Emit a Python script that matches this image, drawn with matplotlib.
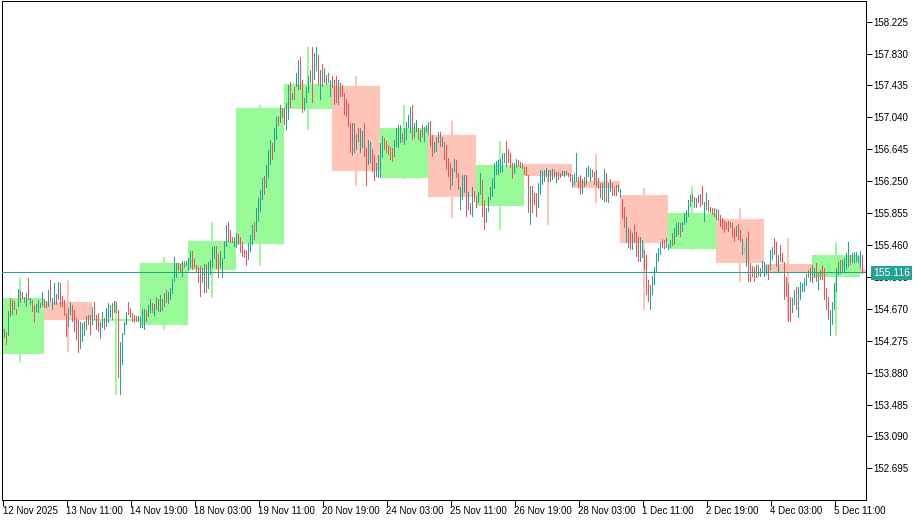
import matplotlib
matplotlib.use("Agg")
import matplotlib.pyplot as plt
from matplotlib.transforms import blended_transform_factory

plt.rcParams['font.family'] = ['Liberation Sans', 'DejaVu Sans']

# ---------------- data ----------------
# hourly bars (H1), 12 Nov 2025 00:00 ... 8 Dec 01:00, 24 bars per trading day
hour_high = [
    # 12 Nov
    154.22, 154.28, 154.33, 154.41, 154.42, 154.38, 154.64, 154.80, 154.78, 154.77, 154.67, 154.92,
    154.89, 154.88, 154.82, 154.87, 155.05, 154.80, 154.78, 154.72, 154.73, 154.78, 154.74, 154.88,
    # 13 Nov
    154.79, 154.77, 154.90, 155.03, 154.80, 154.99, 154.85, 155.00, 154.99, 154.83, 154.78, 154.62,
    154.68, 154.75, 154.72, 154.66, 154.56, 154.53, 154.51, 154.49, 154.52, 154.58, 154.59, 154.59,
    # 14 Nov
    154.69, 154.75, 154.59, 154.62, 154.51, 154.63, 154.56, 154.68, 154.74, 154.72, 154.74, 154.77,
    154.75, 154.66, 154.26, 154.37, 154.51, 154.63, 154.75, 154.68, 154.62, 154.59, 154.58, 154.58,
    # 17 Nov
    154.57, 154.67, 154.67, 154.66, 154.72, 154.79, 154.74, 154.73, 154.82, 154.79, 154.84, 154.79,
    154.87, 154.90, 154.88, 154.93, 155.04, 155.31, 155.24, 155.24, 155.22, 155.26, 155.26, 155.26,
    # 18 Nov
    155.30, 155.39, 155.39, 155.29, 155.21, 155.19, 155.20, 155.17, 155.22, 155.22, 155.25, 155.27,
    155.44, 155.45, 155.45, 155.35, 155.39, 155.30, 155.51, 155.71, 155.75, 155.65, 155.56, 155.56,
    # 19 Nov
    155.61, 155.60, 155.56, 155.50, 155.40, 155.40, 155.48, 155.58, 155.71, 155.75, 155.92, 156.04,
    156.14, 156.29, 156.32, 156.45, 156.64, 156.76, 156.72, 156.91, 157.04, 157.06, 157.19, 157.16,
    # 20 Nov
    157.16, 157.22, 157.44, 157.48, 157.34, 157.42, 157.59, 157.75, 157.79, 157.50, 157.28, 157.42,
    157.55, 157.63, 157.91, 157.84, 157.91, 157.81, 157.63, 157.70, 157.65, 157.56, 157.59, 157.50,
    # 21 Nov
    157.55, 157.50, 157.55, 157.50, 157.47, 157.44, 157.34, 157.27, 157.22, 156.97, 156.97, 156.97,
    156.83, 156.91, 156.91, 156.87, 156.97, 156.66, 156.76, 156.74, 156.65, 156.57, 156.47, 156.57,
    # 24 Nov
    156.72, 156.81, 156.78, 156.75, 156.70, 156.67, 156.66, 156.76, 156.91, 156.95, 156.95, 156.85,
    156.91, 156.98, 157.07, 157.17, 157.19, 156.97, 157.01, 156.91, 156.88, 156.95, 156.92, 156.95,
    # 25 Nov
    156.98, 157.00, 156.82, 156.73, 156.80, 156.86, 156.86, 156.80, 156.73, 156.70, 156.54, 156.47,
    156.41, 156.52, 156.51, 156.35, 156.18, 156.33, 156.33, 156.33, 156.12, 155.98, 156.18, 156.13,
    # 26 Nov
    156.07, 156.12, 156.35, 156.26, 156.02, 155.92, 156.05, 156.18, 156.29, 156.47, 156.50, 156.51,
    156.52, 156.60, 156.60, 156.75, 156.65, 156.60, 156.47, 156.47, 156.52, 156.51, 156.49, 156.47,
    # 27 Nov
    156.43, 156.43, 156.33, 156.19, 156.19, 156.10, 156.10, 156.23, 156.39, 156.38, 156.39, 156.41,
    156.39, 156.39, 156.40, 156.39, 156.36, 156.36, 156.35, 156.38, 156.38, 156.38, 156.35, 156.34,
    # 28 Nov
    156.33, 156.35, 156.60, 156.30, 156.33, 156.28, 156.30, 156.41, 156.44, 156.40, 156.39, 156.36,
    156.39, 156.29, 156.23, 156.23, 156.40, 156.35, 156.23, 156.28, 156.23, 156.18, 156.20, 156.20,
    # 1 Dec
    156.15, 156.03, 155.93, 155.81, 155.67, 155.65, 155.61, 155.71, 155.62, 155.56, 155.56, 155.52,
    155.40, 155.34, 155.03, 154.97, 155.08, 155.19, 155.36, 155.42, 155.50, 155.53, 155.52, 155.55,
    # 2 Dec
    155.47, 155.52, 155.61, 155.67, 155.73, 155.75, 155.73, 155.75, 155.86, 155.89, 156.02, 156.08,
    156.09, 156.05, 156.04, 156.08, 156.09, 156.19, 155.99, 156.10, 156.02, 155.93, 155.92, 155.92,
    # 3 Dec
    155.91, 155.89, 155.83, 155.80, 155.77, 155.75, 155.76, 155.75, 155.73, 155.67, 155.70, 155.72,
    155.65, 155.53, 155.44, 155.55, 155.62, 155.24, 155.20, 155.19, 155.21, 155.21, 155.17, 155.26,
    # 4 Dec
    155.25, 155.21, 155.21, 155.40, 155.44, 155.55, 155.50, 155.34, 155.46, 155.36, 155.25, 155.06,
    154.99, 154.82, 154.80, 154.90, 154.94, 154.94, 155.00, 154.99, 155.05, 155.10, 155.15, 155.17,
    # 5 Dec
    155.21, 155.17, 155.24, 155.13, 155.15, 155.21, 155.17, 154.93, 154.82, 154.65, 154.75, 154.99,
    155.17, 155.25, 155.27, 155.27, 155.30, 155.36, 155.50, 155.34, 155.36, 155.37, 155.37, 155.32,
    # 8 Dec
    155.39, 155.34,
]

hour_low = [
    # 12 Nov
    154.01, 154.06, 154.14, 154.28, 154.31, 154.22, 154.33, 154.57, 154.59, 154.66, 154.59, 154.69,
    154.74, 154.79, 154.74, 154.69, 154.78, 154.72, 154.63, 154.49, 154.63, 154.62, 154.68, 154.70,
    # 13 Nov
    154.68, 154.68, 154.69, 154.75, 154.66, 154.72, 154.72, 154.78, 154.69, 154.69, 154.58, 154.32,
    154.44, 154.59, 154.51, 154.38, 154.28, 154.12, 154.17, 154.26, 154.33, 154.41, 154.47, 154.35,
    # 14 Nov
    154.47, 154.53, 154.41, 154.38, 154.30, 154.43, 154.41, 154.44, 154.49, 154.56, 154.53, 154.62,
    154.62, 153.81, 153.60, 153.97, 154.35, 154.47, 154.59, 154.56, 154.51, 154.49, 154.51, 154.51,
    # 17 Nov
    154.43, 154.43, 154.41, 154.51, 154.57, 154.62, 154.62, 154.58, 154.66, 154.63, 154.63, 154.64,
    154.69, 154.74, 154.73, 154.78, 154.85, 155.00, 155.05, 155.14, 155.13, 155.06, 155.17, 155.20,
    # 18 Nov
    155.14, 155.17, 155.15, 155.17, 155.11, 154.99, 154.82, 154.99, 154.87, 154.87, 154.92, 155.09,
    155.17, 155.29, 155.16, 155.05, 155.17, 155.05, 155.29, 155.44, 155.50, 155.48, 155.48, 155.44,
    # 19 Nov
    155.42, 155.46, 155.36, 155.31, 155.30, 155.20, 155.27, 155.37, 155.46, 155.52, 155.62, 155.74,
    155.87, 156.02, 156.08, 156.17, 156.29, 156.45, 156.51, 156.61, 156.76, 156.93, 156.97, 157.03,
    # 20 Nov
    156.95, 156.88, 157.01, 157.16, 157.26, 157.26, 157.42, 157.38, 157.38, 157.09, 157.12, 157.22,
    157.34, 157.47, 157.22, 157.50, 157.61, 157.44, 157.26, 157.42, 157.47, 157.44, 157.47, 157.29,
    # 21 Nov
    157.40, 157.19, 157.22, 157.19, 157.29, 157.29, 157.07, 157.04, 156.92, 156.60, 156.56, 156.60,
    156.64, 156.74, 156.60, 156.66, 156.55, 156.19, 156.45, 156.47, 156.36, 156.25, 156.30, 156.29,
    # 24 Nov
    156.29, 156.54, 156.64, 156.60, 156.57, 156.51, 156.49, 156.55, 156.67, 156.66, 156.72, 156.74,
    156.70, 156.76, 156.91, 156.85, 156.76, 156.78, 156.86, 156.76, 156.74, 156.80, 156.74, 156.86,
    # 25 Nov
    156.82, 156.67, 156.55, 156.60, 156.61, 156.72, 156.67, 156.67, 156.51, 156.39, 156.30, 156.14,
    156.19, 156.36, 156.29, 156.14, 155.89, 156.02, 156.10, 155.81, 155.89, 155.83, 155.81, 155.99,
    # 26 Nov
    155.92, 155.98, 156.08, 155.81, 155.65, 155.73, 155.87, 156.02, 156.05, 156.15, 156.33, 156.33,
    156.35, 156.36, 156.47, 156.43, 156.47, 156.41, 156.28, 156.34, 156.41, 156.43, 156.41, 156.40,
    # 27 Nov
    156.33, 156.32, 155.86, 155.71, 155.86, 155.95, 155.81, 155.92, 156.08, 156.20, 156.24, 156.30,
    156.24, 156.24, 156.27, 156.29, 156.23, 156.27, 156.29, 156.32, 156.30, 156.33, 156.30, 156.24,
    # 28 Nov
    156.18, 156.20, 156.24, 156.17, 156.08, 156.09, 156.18, 156.20, 156.30, 156.24, 156.30, 156.20,
    156.18, 156.15, 156.04, 156.02, 155.99, 155.99, 155.98, 156.12, 156.07, 156.07, 156.07, 156.12,
    # 1 Dec
    156.04, 155.78, 155.67, 155.49, 155.42, 155.40, 155.40, 155.49, 155.31, 155.25, 155.25, 155.30,
    155.15, 154.84, 154.75, 154.66, 154.84, 154.96, 155.11, 155.25, 155.34, 155.42, 155.41, 155.42,
    # 2 Dec
    155.40, 155.42, 155.45, 155.46, 155.56, 155.58, 155.56, 155.62, 155.71, 155.73, 155.81, 155.93,
    155.99, 155.92, 155.92, 155.98, 155.93, 155.95, 155.74, 155.89, 155.87, 155.86, 155.83, 155.81,
    # 3 Dec
    155.77, 155.77, 155.68, 155.65, 155.61, 155.65, 155.62, 155.67, 155.55, 155.50, 155.56, 155.52,
    155.50, 155.34, 155.36, 155.19, 155.00, 155.00, 155.06, 155.00, 155.05, 155.06, 155.06, 155.13,
    # 4 Dec
    155.06, 155.09, 155.03, 155.15, 155.27, 155.34, 155.19, 155.13, 155.25, 155.24, 154.78, 154.82,
    154.51, 154.51, 154.62, 154.72, 154.66, 154.56, 154.78, 154.88, 154.88, 154.95, 155.05, 155.00,
    # 5 Dec
    154.99, 155.05, 155.00, 154.90, 155.03, 155.03, 154.78, 154.66, 154.53, 154.33, 154.47, 154.65,
    154.88, 155.09, 155.10, 155.11, 155.11, 155.15, 155.19, 155.21, 155.24, 155.24, 155.25, 155.24,
    # 8 Dec
    155.16, 155.10,
]

# bar direction: u = up, d = down, n = unchanged
hour_dir = "".join([
    "dudu udud uddu dudu dudd uudu",   # 12 Nov
    "duud uudu dddd uudd dduu udud",   # 13 Nov
    "uddd uudu uudu dduu uudd dddu",   # 14 Nov
    "uuud uudu duud uduu uuud dudu",   # 17 Nov
    "uudd dddu uduu uudd uuuu dddu",   # 18 Nov
    "uddd dduu uduu uudu uudu udud",   # 19 Nov
    "duud uduu dduu uudu udud uudu",   # 20 Nov
    "dddu dddd ddud uduu dduu dduu",   # 21 Nov
    "uudd dddu uuud uuuu duud uduu",   # 24 Nov
    "uddu uudu dddd uudd uuud udud",   # 25 Nov
    "duud duuu uuuu uuud dddu uddd",   # 26 Nov
    "dddu dddu uuuu duud uddu uudd",   # 27 Nov
    "uuud dudu uudd uddu uduu dddu",   # 28 Nov
    "uddu ddud dduu dddu uuuu uddu",   # 1 Dec
    "uudu uudu uuuu dudu dduu dudd",   # 2 Dec
    "uddd dddu ddud dunu dddd uduu",   # 3 Dec
    "uudu uddu dddd dduu duuu uudu",   # 4 Dec
    "dudu dddd duuu uudu uuud uuuu",   # 5 Dec
    "ud",                              # 8 Dec
]).replace(" ", "")

# daily candles (D1)
day_open  = [154.11, 154.75, 154.52, 154.47, 155.15, 155.47, 157.14, 157.43, 156.29, 156.82,
             155.94, 156.46, 156.25, 156.08, 155.41, 155.78, 155.22, 155.06, 155.16]
day_high  = [155.05, 155.03, 154.77, 155.31, 155.75, 157.19, 157.91, 157.55, 157.19, 157.00,
             156.75, 156.46, 156.59, 156.17, 156.19, 155.92, 155.55, 155.50, 155.39]
day_low   = [154.01, 154.13, 153.60, 154.41, 154.80, 155.20, 156.88, 156.19, 156.28, 155.80,
             155.65, 155.71, 155.98, 154.66, 155.40, 155.00, 154.51, 154.33, 155.10]
day_close = [154.80, 154.53, 154.54, 155.24, 155.51, 157.16, 157.45, 156.38, 156.91, 156.05,
             156.45, 156.31, 156.17, 155.48, 155.86, 155.24, 155.13, 155.34, 155.12]

last_price = 155.116

price_ticks = [158.225, 157.830, 157.435, 157.040, 156.645, 156.250, 155.855, 155.460,
               155.065, 154.670, 154.275, 153.880, 153.485, 153.090, 152.695]

time_labels = ["12 Nov 2025", "13 Nov 11:00", "14 Nov 19:00", "18 Nov 03:00", "19 Nov 11:00",
               "20 Nov 19:00", "24 Nov 03:00", "25 Nov 11:00", "26 Nov 19:00", "28 Nov 03:00",
               "1 Dec 11:00", "2 Dec 19:00", "4 Dec 03:00", "5 Dec 11:00"]
first_label_bar = 3      # 12 Nov 03:00
label_step = 32          # bars between labels
bars_per_day = 24

# ---------------- style ----------------
UP = '#20a393'
DN = '#f05050'
NEU = '#7fd87f'
BOX_UP = '#98fb98'
BOX_DN = '#ffc4b8'
PX = 72.0 / 100.0   # one pixel in points

W, H = 921, 521
fig = plt.figure(figsize=(W / 100, H / 100), dpi=100)
fig.patch.set_facecolor('white')
ax = fig.add_axes([2 / W, 21 / H, 864 / W, 499 / H])

Y_MIN, Y_MAX = 152.303, 158.481
half_px = (Y_MAX - Y_MIN) / 499 / 2

# daily candles behind
n_days = len(day_open)
centers = [d * bars_per_day + (bars_per_day - 1) / 2 for d in range(n_days)]
box_cols = [BOX_UP if c >= o else BOX_DN for o, c in zip(day_open, day_close)]
ax.bar(centers, [h - l for h, l in zip(day_high, day_low)], bottom=day_low, width=1.0,
       color=box_cols, linewidth=0, zorder=1, antialiased=False)
heights = []
for o, c in zip(day_open, day_close):
    hgt = c - o
    if abs(hgt) < 0.02:
        hgt = 0.02 if hgt >= 0 else -0.02
    heights.append(hgt)
ax.bar(centers, heights, bottom=day_open, width=bars_per_day,
       color=box_cols, linewidth=0, zorder=1.1, antialiased=False)

# hourly bars: 1-pixel wide filled columns (0.5 bar units = 1 px)
n = min(len(hour_high), len(hour_low), len(hour_dir))
xs = list(range(n))
cols = [UP if hour_dir[i] == 'u' else (DN if hour_dir[i] == 'd' else NEU) for i in xs]
ax.bar(xs, [hour_high[i] - hour_low[i] for i in xs], bottom=hour_low[:n], width=0.5,
       color=cols, linewidth=0, zorder=2, antialiased=False)

# last price line (one pixel high band)
ax.axhspan(last_price - half_px, last_price + half_px, color=UP, linewidth=0,
           zorder=3, antialiased=False)

# bar k sits on pixel centre: x_px = 2k - 3.5
ax.set_xlim(2.75, 434.75)
ax.set_ylim(Y_MIN, Y_MAX)

for sp in ax.spines.values():
    sp.set_color('black')
    sp.set_linewidth(1.0 * PX)

ax.yaxis.tick_right()
ax.set_yticks(price_ticks)
ax.set_yticklabels([f"{t:.3f}" for t in price_ticks])
ax.tick_params(axis='y', direction='out', length=4, width=PX, pad=1.0,
               labelsize=7, colors='black')

xt = [first_label_bar + label_step * i for i in range(len(time_labels))]
ax.set_xticks(xt)
ax.set_xticklabels(time_labels)
ax.tick_params(axis='x', direction='out', length=4, width=PX, pad=0.5,
               labelsize=7, colors='black')
for lbl in ax.get_xticklabels():
    lbl.set_horizontalalignment('left')

# last price tag on the axis
tr = blended_transform_factory(ax.transAxes, ax.transData)
ax.text(1.0 + 7 / 864, last_price, f"{last_price:.3f}", transform=tr,
        ha='left', va='center', color='white', fontsize=7.5, zorder=20, clip_on=False,
        bbox=dict(boxstyle='square,pad=0.2', fc=UP, ec='none'))

fig.savefig("out.png", dpi=100, facecolor='white')
